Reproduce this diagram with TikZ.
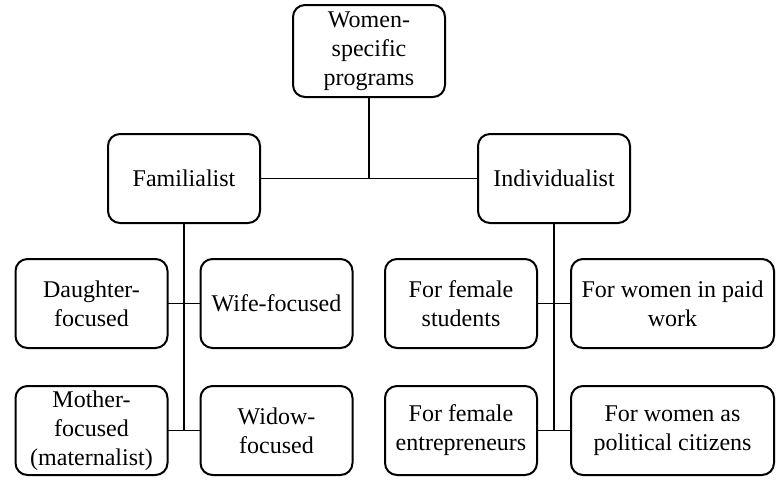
\documentclass[tikz,border=0pt]{standalone}
\usepackage{fontspec}
\setmainfont{Liberation Serif}
\usetikzlibrary{positioning}

\begin{document}
\begin{tikzpicture}[ node distance = 18.5pt and 16.5pt
                   , font = \fontsize{12pt}{14.5pt}\selectfont
                   , box/.style = { rectangle
                                  , rounded corners = 6pt
                                  , draw = black
                                  , line width = 1pt
                                  , outer sep = 0pt
                                  , inner sep = 2pt
                                  , align = center
                                  , minimum width = 76pt
                                  , minimum height = 44.5pt }
                   , wide/.style = { box, minimum width = 101.5pt }
                   , link/.style = { line width = 0.6pt }
                   ]

  \useasboundingbox (0,0) rectangle (388.5pt,-239.5pt);

  \node (women) [box, minimum height = 46pt] at (184.5pt,-25.5pt) {Women-\\specific\\programs};
  \node (familialist) [box, below left = of women] {Familialist};
  \node (individualist) [box, below right = of women] {Individualist};

  % familialist branch
  \node (daughter) [box, below left = 18pt and 8.25pt of familialist.south] {Daughter-\\focused};
  \node (wife) [box, below right = 18pt and 8.25pt of familialist.south] {Wife-focused};
  \node (mother) [box, below = 19pt of daughter] {Mother-\\focused\\(maternalist)};
  \node (widow) [box, below = 19pt of wife] {Widow-\\focused};

  % individualist branch
  \node (students) [box, below left = 18pt and 8.5pt of individualist.south] {For female\\students};
  \node (paidwork) [wide, below right = 18pt and 8.5pt of individualist.south] {For women in paid\\work};
  \node (entrepreneurs) [box, below = 19pt of students] {For female\\entrepreneurs};
  \node (citizens) [wide, below = 19pt of paidwork] {For women as\\political citizens};

  \draw [link] (familialist) -- (individualist);
  \draw [link] (women.south) -- (women.south |- familialist.east);

  \draw [link] (familialist.south) -- (familialist.south |- mother.east);
  \draw [link] (daughter) -- (wife);
  \draw [link] (mother) -- (widow);

  \draw [link] (individualist.south) -- (individualist.south |- entrepreneurs.east);
  \draw [link] (students) -- (paidwork);
  \draw [link] (entrepreneurs) -- (citizens);

\end{tikzpicture}
\end{document}
